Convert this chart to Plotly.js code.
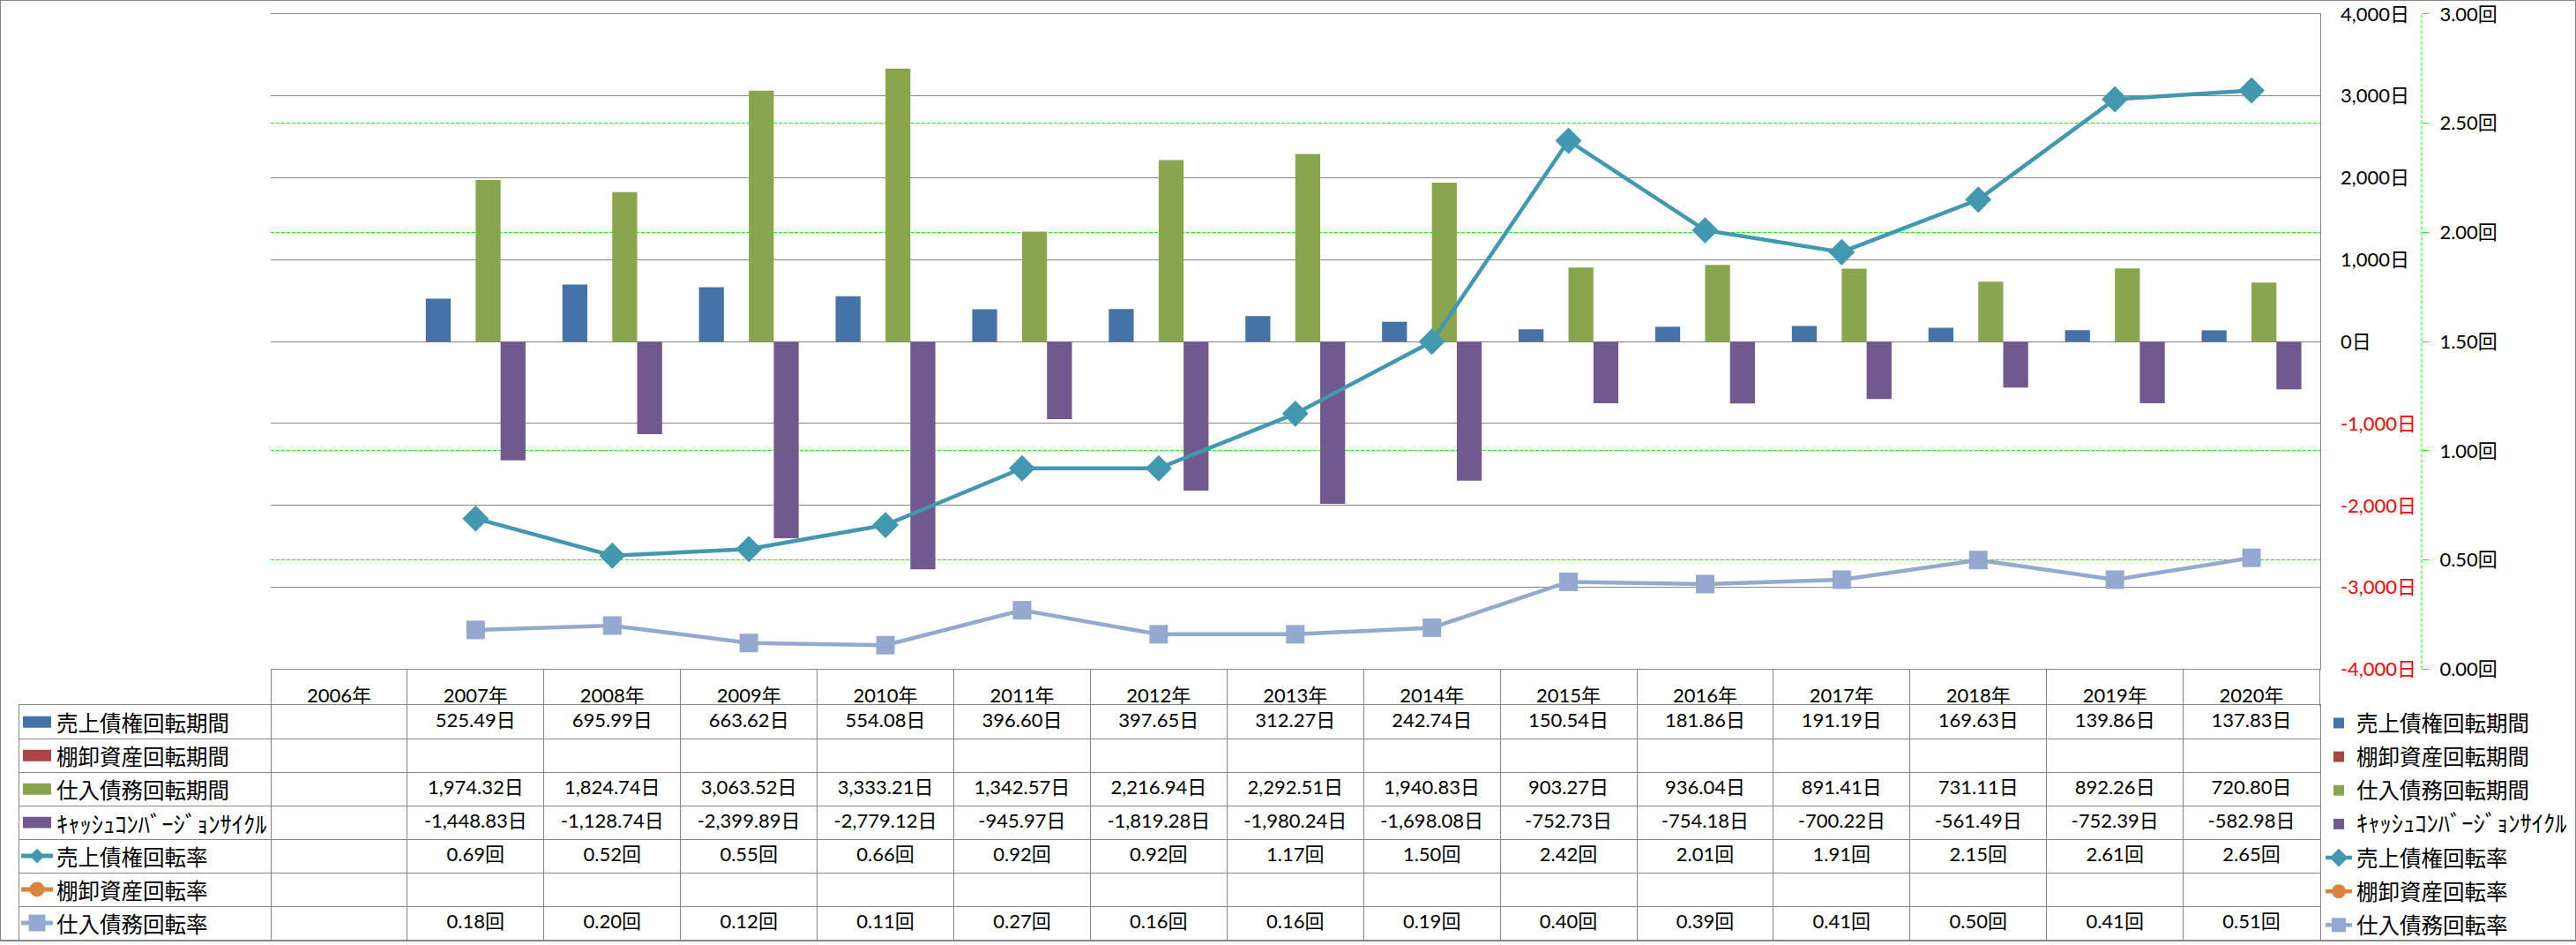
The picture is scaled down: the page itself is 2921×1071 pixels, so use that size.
<!DOCTYPE html>
<html>
<head>
<meta charset="utf-8">
<script src="https://cdn.plot.ly/plotly-3.0.1.min.js"></script>
<style>
html,body{margin:0;padding:0;background:#ffffff;}
#chart{width:2921px;height:1071px;}
</style>
</head>
<body>
<div id="chart"></div>
<script>
// ---------- data ----------
const categories = ['2006年','2007年','2008年','2009年','2010年','2011年','2012年','2013年','2014年','2015年','2016年','2017年','2018年','2019年','2020年'];
const seriesNames = ['売上債権回転期間','棚卸資産回転期間','仕入債務回転期間','ｷｬｯｼｭｺﾝﾊﾞｰｼﾞｮﾝｻｲｸﾙ','売上債権回転率','棚卸資産回転率','仕入債務回転率'];
const receivableDays = [null,525.49,695.99,663.62,554.08,396.60,397.65,312.27,242.74,150.54,181.86,191.19,169.63,139.86,137.83];
const inventoryDays = [null,null,null,null,null,null,null,null,null,null,null,null,null,null,null];
const payableDays = [null,1974.32,1824.74,3063.52,3333.21,1342.57,2216.94,2292.51,1940.83,903.27,936.04,891.41,731.11,892.26,720.80];
const cccDays = [null,-1448.83,-1128.74,-2399.89,-2779.12,-945.97,-1819.28,-1980.24,-1698.08,-752.73,-754.18,-700.22,-561.49,-752.39,-582.98];
const receivableTurnover = [null,0.69,0.52,0.55,0.66,0.92,0.92,1.17,1.50,2.42,2.01,1.91,2.15,2.61,2.65];
const inventoryTurnover = [null,null,null,null,null,null,null,null,null,null,null,null,null,null,null];
const payableTurnover = [null,0.18,0.20,0.12,0.11,0.27,0.16,0.16,0.19,0.40,0.39,0.41,0.50,0.41,0.51];
const daysTickVals = [-4000,-3000,-2000,-1000,0,1000,2000,3000,4000];
const turnoverTickVals = [0,0.5,1,1.5,2,2.5,3];

// ---------- style ----------
const colors = ['#4572A7','#AA4643','#89A54E','#71588F','#4198AF','#DB843D','#93A9CF'];
const symbols = [null,null,null,null,'diamond','circle','square'];
const gray = '#868686';
const green = '#00FF00';
const numFont = "Lato, 'Noto Sans CJK JP', sans-serif";
const cjkFont = "'Noto Sans CJK JP', sans-serif";

const W = 2921, H = 1071;
const plotL = 307, plotR = 2630.5, plotT = 16, plotB = 762;
const tableL = 22, headerB = 803, tableB = 1070;
const y2Pos = 2746;
const fx = p => p / W;
const fy = p => 1 - p / H;
const catW = (plotR - plotL) / categories.length;
const rowH = (tableB - headerB) / seriesNames.length;

const fmtDays = v => v == null ? '' : v.toLocaleString('en-US',{minimumFractionDigits:2,maximumFractionDigits:2}) + '日';
const fmtTimes = v => v == null ? '' : v.toFixed(2) + '回';
// half-width katakana label is drawn a little larger, as in the original
const labelHtml = n => /[\uFF61-\uFF9F]/.test(n) ? '<span style="font-size:26.5px">' + n + '</span>' : n;

const daySeries = [receivableDays, inventoryDays, payableDays, cccDays];
const rateSeries = [receivableTurnover, inventoryTurnover, payableTurnover];

const traces = [];
daySeries.forEach((vals, i) => {
  traces.push({
    type:'bar', x:categories, y:vals, name:labelHtml(seriesNames[i]),
    marker:{color:colors[i], line:{width:0}},
    xaxis:'x', yaxis:'y', legendgroup:'g'+i, hoverinfo:'skip'
  });
});
rateSeries.forEach((vals, j) => {
  const i = j + 4;
  traces.push({
    type:'scatter', mode:'lines+markers', x:categories, y:vals, name:labelHtml(seriesNames[i]),
    line:{color:colors[i], width:4.5},
    marker:{symbol:symbols[i], size: symbols[i]==='diamond' ? 23 : 21, color:colors[i], line:{width:0}},
    xaxis:'x', yaxis:'y2', legendgroup:'g'+i, hoverinfo:'skip', cliponaxis:false
  });
});
// data table cells
const allSeries = daySeries.concat(rateSeries);
allSeries.forEach((vals, i) => {
  const fmt = i < 4 ? fmtDays : fmtTimes;
  traces.push({
    type:'scatter', mode:'text', x:categories, y:categories.map(() => seriesNames[i]),
    text: vals.map(fmt), textposition:'middle center',
    textfont:{family:numFont, size:22, color:'#000'},
    xaxis:'x2', yaxis:'y3', showlegend:false, hoverinfo:'skip', cliponaxis:false
  });
});

const dayTickText = daysTickVals.map(v => {
  const t = v.toLocaleString('en-US') + '日';
  return v < 0 ? '<span style="color:#FF0000">' + t + '</span>' : t;
});
const rateTickText = turnoverTickVals.map(v => v.toFixed(2) + '回');

// ---------- shapes ----------
const shapes = [];
shapes.push({type:'rect', xref:'paper', yref:'paper', x0:0, x1:1, y0:0, y1:1, line:{color:gray, width:2}, layer:'above'});
shapes.push({type:'line', xref:'paper', yref:'paper', x0:fx(y2Pos), x1:fx(y2Pos), y0:fy(plotB), y1:fy(plotT), line:{color:green, width:1, dash:'4px,2px'}});
// swatches in the table's label column
const swL = 26, swR = 58, swC = (swL + swR) / 2;
seriesNames.forEach((n, i) => {
  if (i < 4) {
    const hh = 6.5 / rowH;
    shapes.push({type:'rect', xref:'paper', yref:'y3', x0:fx(swL), x1:fx(swR), y0:i-hh, y1:i+hh, fillcolor:colors[i], line:{width:0}});
  } else {
    shapes.push({type:'line', xref:'paper', yref:'y3', x0:fx(swL-2), x1:fx(swR+2), y0:i, y1:i, line:{color:colors[i], width:5}});
    const r = 8.5, ry = r / rowH;
    if (symbols[i] === 'diamond') {
      shapes.push({type:'path', xref:'paper', yref:'y3', fillcolor:colors[i], line:{width:0},
        path:`M${fx(swC)},${i-ry} L${fx(swC+r)},${i} L${fx(swC)},${i+ry} L${fx(swC-r)},${i} Z`});
    } else if (symbols[i] === 'circle') {
      shapes.push({type:'circle', xref:'paper', yref:'y3', x0:fx(swC-r), x1:fx(swC+r), y0:i-ry, y1:i+ry, fillcolor:colors[i], line:{width:0}});
    } else {
      const s = 9.5, sy = s / rowH;
      shapes.push({type:'rect', xref:'paper', yref:'y3', x0:fx(swC-s), x1:fx(swC+s), y0:i-sy, y1:i+sy, fillcolor:colors[i], line:{width:0}});
    }
  }
});
// row labels of the data table
const annotations = seriesNames.map((n, i) => ({
  xref:'paper', yref:'y3', x:fx(62), y:i, xanchor:'left', yanchor:'middle',
  text:labelHtml(n), showarrow:false, font:{family:cjkFont, size:24.5, color:'#000'}
}));

const layout = {
  width:W, height:H, margin:{l:0,r:0,t:0,b:0,pad:0},
  paper_bgcolor:'#ffffff', plot_bgcolor:'rgba(0,0,0,0)',
  font:{family:numFont, size:22, color:'#000000'},
  barmode:'group', bargap:0.27, bargroupgap:0,
  showlegend:true,
  legend:{x:fx(2632), xanchor:'left', y:fy(801), yanchor:'top', orientation:'v',
    font:{family:cjkFont, size:24.5, color:'#000'}, tracegroupgap:3.3, traceorder:'grouped',
    bgcolor:'rgba(0,0,0,0)', borderwidth:0, itemclick:false, itemdoubleclick:false},
  xaxis:{domain:[fx(plotL), fx(plotR)], anchor:'y', type:'category',
    categoryorder:'array', categoryarray:categories, range:[-0.5, categories.length - 0.5],
    tickmode:'array', tickvals:categories,
    ticks:'outside', tickson:'boundaries', ticklen:headerB - plotB, tickcolor:gray, tickwidth:1,
    ticklabelstandoff:10,
    showline:true, mirror:true, linecolor:gray, linewidth:1, showgrid:false, zeroline:false,
    tickfont:{family:numFont, size:22, color:'#000'}, automargin:false, fixedrange:true},
  yaxis:{domain:[fy(plotB), fy(plotT)], anchor:'x', side:'right', range:[-4000,4000],
    tickmode:'array', tickvals:daysTickVals, ticktext:dayTickText,
    showgrid:true, gridcolor:gray, gridwidth:1, zeroline:true, zerolinecolor:gray, zerolinewidth:1,
    showline:true, linecolor:gray, linewidth:1, ticks:'', ticklabelstandoff:18,
    tickfont:{family:numFont, size:22, color:'#000'}, automargin:false, fixedrange:true},
  yaxis2:{overlaying:'y', side:'right', anchor:'free', position:fx(y2Pos), range:[0,3],
    tickmode:'array', tickvals:turnoverTickVals, ticktext:rateTickText,
    showgrid:true, gridcolor:green, gridwidth:1, griddash:'4px,2px', zeroline:false, showline:false,
    ticks:'outside', ticklen:7, tickcolor:green, tickwidth:1, ticklabelstandoff:8,
    tickfont:{family:numFont, size:22, color:'#000'}, automargin:false, fixedrange:true},
  xaxis2:{domain:[fx(tableL), fx(plotR)], anchor:'y3', type:'category',
    categoryorder:'array', categoryarray:categories,
    range:[-0.5 - (plotL - tableL) / catW, categories.length - 0.5],
    tickmode:'array', tickvals:categories, tickson:'boundaries', showticklabels:false, ticks:'',
    showgrid:true, gridcolor:gray, gridwidth:1, showline:true, mirror:true, linecolor:gray, linewidth:1,
    zeroline:false, automargin:false, fixedrange:true},
  yaxis3:{domain:[fy(tableB), fy(headerB)], anchor:'x2', type:'category',
    categoryorder:'array', categoryarray:seriesNames, range:[seriesNames.length - 0.5, -0.5],
    tickson:'boundaries', showgrid:true, gridcolor:gray, gridwidth:1,
    showline:true, mirror:true, linecolor:gray, linewidth:1, ticks:'', showticklabels:false,
    zeroline:false, automargin:false, fixedrange:true},
  shapes:shapes,
  annotations:annotations
};

Plotly.newPlot('chart', traces, layout, {staticPlot:true, displayModeBar:false});
</script>
</body>
</html>
